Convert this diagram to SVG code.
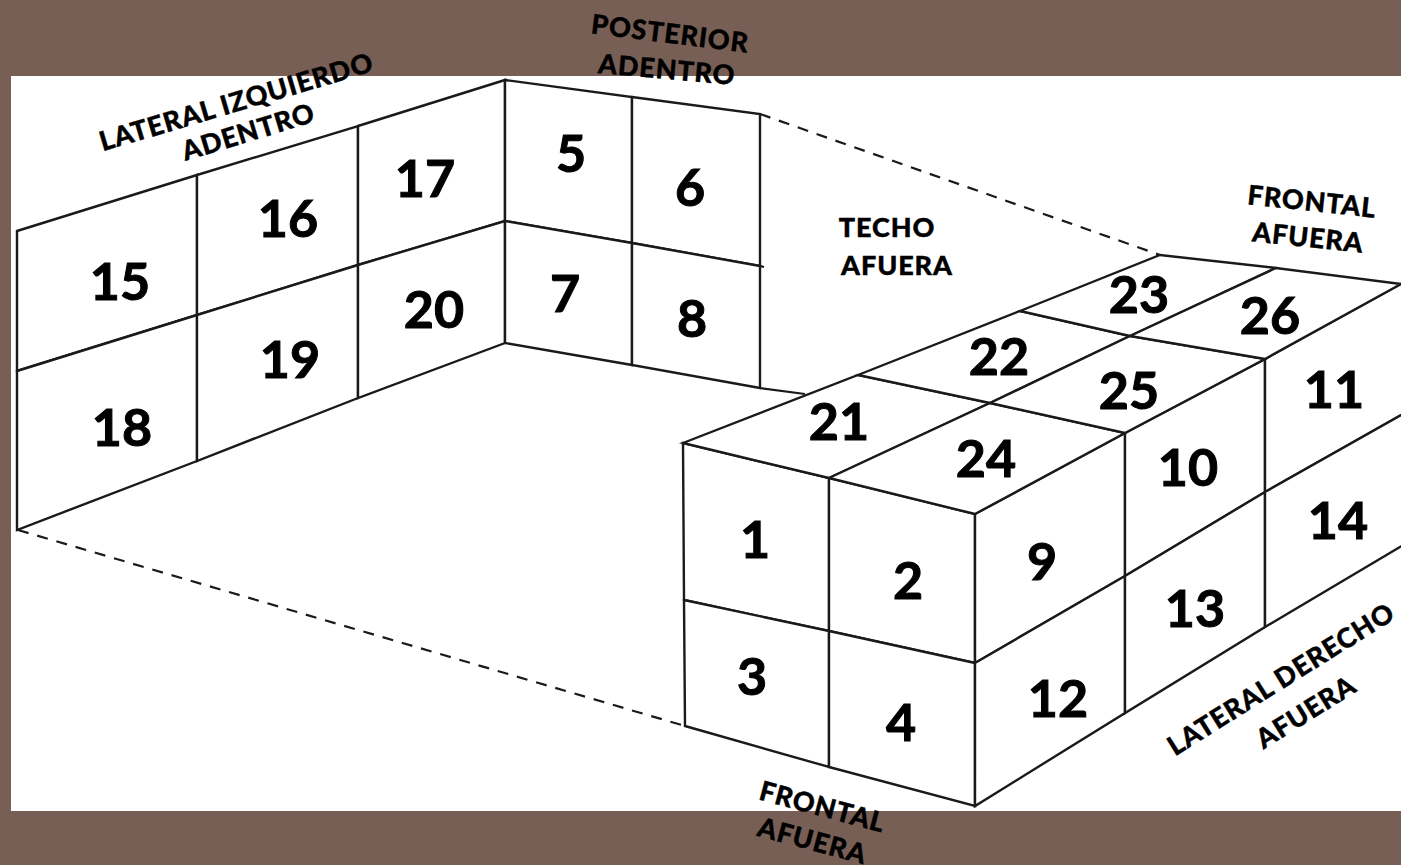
<svg xmlns="http://www.w3.org/2000/svg" width="1401" height="865" viewBox="0 0 1401 865">
<style>
.c{fill:#fff;stroke:#1a1a1a;stroke-width:2.4;stroke-linejoin:miter}
.n{font-family:"Lato","Liberation Sans",sans-serif;font-weight:700;font-size:52px;fill:#000;stroke:#000;stroke-width:1;text-anchor:middle}
.l{font-family:"Lato","Liberation Sans",sans-serif;font-weight:900;font-size:27px;fill:#000;stroke:#000;stroke-width:.4;text-anchor:middle;letter-spacing:.9px}
.k{fill:none;stroke:#1a1a1a;stroke-width:2.2}
.d{stroke-dasharray:11 9}
</style>
<rect width="1401" height="865" fill="#785f55"/>
<rect x="11" y="76" width="1390" height="735" fill="#fff"/>
<g id="n15"><polygon class="c" points="17,231 197,175 197,315 17,371"/><text class="n" x="120" y="300">15</text></g>
<g id="n16"><polygon class="c" points="197,175 358,126 358,265 197,315"/><text class="n" x="288" y="237">16</text></g>
<g id="n17"><polygon class="c" points="358,126 505,80 505,221 358,265"/><text class="n" x="425" y="197">17</text></g>
<g id="n18"><polygon class="c" points="17,371 197,315 197,461 17,530"/><text class="n" x="122" y="446">18</text></g>
<g id="n19"><polygon class="c" points="197,315 358,265 358,398 197,461"/><text class="n" x="290" y="378">19</text></g>
<g id="n20"><polygon class="c" points="358,265 505,221 505,343 358,398"/><text class="n" x="434" y="328">20</text></g>
<g id="n5"><polygon class="c" points="505,80 632,97 632,243 505,221"/><text class="n" x="571" y="172">5</text></g>
<g id="n6"><polygon class="c" points="632,97 760,114 760,266 632,243"/><text class="n" x="690" y="206">6</text></g>
<g id="n7"><polygon class="c" points="505,221 632,243 632,365 505,343"/><text class="n" x="565" y="312">7</text></g>
<g id="n8"><polygon class="c" points="632,243 760,266 760,388 632,365"/><text class="n" x="692" y="337">8</text></g>
<g id="n1"><polygon class="c" points="683,443 829,478 829,631 684,600"/><text class="n" x="755" y="558">1</text></g>
<g id="n2"><polygon class="c" points="829,478 975,514 975,663 829,631"/><text class="n" x="908" y="599">2</text></g>
<g id="n3"><polygon class="c" points="684,600 829,631 829,767 685,726"/><text class="n" x="752" y="695">3</text></g>
<g id="n4"><polygon class="c" points="829,631 975,663 975,806 829,767"/><text class="n" x="901" y="741">4</text></g>
<g id="n9"><polygon class="c" points="975,514 1125,433 1125,576 975,663"/><text class="n" x="1042" y="580">9</text></g>
<g id="n10"><polygon class="c" points="1125,433 1265,359 1265,492 1125,576"/><text class="n" x="1188" y="486">10</text></g>
<g id="n11"><polygon class="c" points="1265,359 1410,279 1410,410 1265,492"/><text class="n" x="1334" y="408">11</text></g>
<g id="n12"><polygon class="c" points="975,663 1125,576 1125,713 975,806"/><text class="n" x="1058" y="717">12</text></g>
<g id="n13"><polygon class="c" points="1125,576 1265,492 1265,627 1125,713"/><text class="n" x="1195" y="627">13</text></g>
<g id="n14"><polygon class="c" points="1265,492 1410,410 1410,541 1265,627"/><text class="n" x="1338" y="539">14</text></g>
<g id="n21"><polygon class="c" points="683,443 858,375 990,403 829,478"/><text class="n" x="839" y="440">21</text></g>
<g id="n22"><polygon class="c" points="858,375 1020,311 1130,336 990,403"/><text class="n" x="999" y="375">22</text></g>
<g id="n23"><polygon class="c" points="1020,311 1160,255 1276,268 1130,336"/><text class="n" x="1139" y="313">23</text></g>
<g id="n24"><polygon class="c" points="829,478 990,403 1125,433 975,514"/><text class="n" x="986" y="477">24</text></g>
<g id="n25"><polygon class="c" points="990,403 1130,336 1265,359 1125,433"/><text class="n" x="1129" y="409">25</text></g>
<g id="n26"><polygon class="c" points="1130,336 1276,268 1401,284 1265,359"/><text class="n" x="1270" y="334">26</text></g>
<g id="connectors">
<path class="k d" d="M760 114L1160 255"/>
<path class="k d" d="M18 530L685 726"/>
<path class="k" d="M760 388L805 394"/>
<path class="k" d="M760 266L764 267"/>
</g>
<g id="labels">
<text class="l" transform="translate(239,111) rotate(-16.5)">LATERAL IZQUIERDO</text>
<text class="l" transform="translate(251,141) rotate(-17)">ADENTRO</text>
<text class="l" transform="translate(669,43) rotate(7)">POSTERIOR</text>
<text class="l" transform="translate(666,79) rotate(5)">ADENTRO</text>
<text class="l" x="887" y="237">TECHO</text>
<text class="l" x="897" y="275">AFUERA</text>
<text class="l" transform="translate(1311,211) rotate(6)">FRONTAL</text>
<text class="l" transform="translate(1307,247) rotate(6)">AFUERA</text>
<text class="l" transform="translate(1286,687) rotate(-32)">LATERAL DERECHO</text>
<text class="l" transform="translate(1311,720) rotate(-32)">AFUERA</text>
<text class="l" transform="translate(820,816) rotate(15)">FRONTAL</text>
<text class="l" transform="translate(810,850) rotate(15)">AFUERA</text>
</g>
</svg>
